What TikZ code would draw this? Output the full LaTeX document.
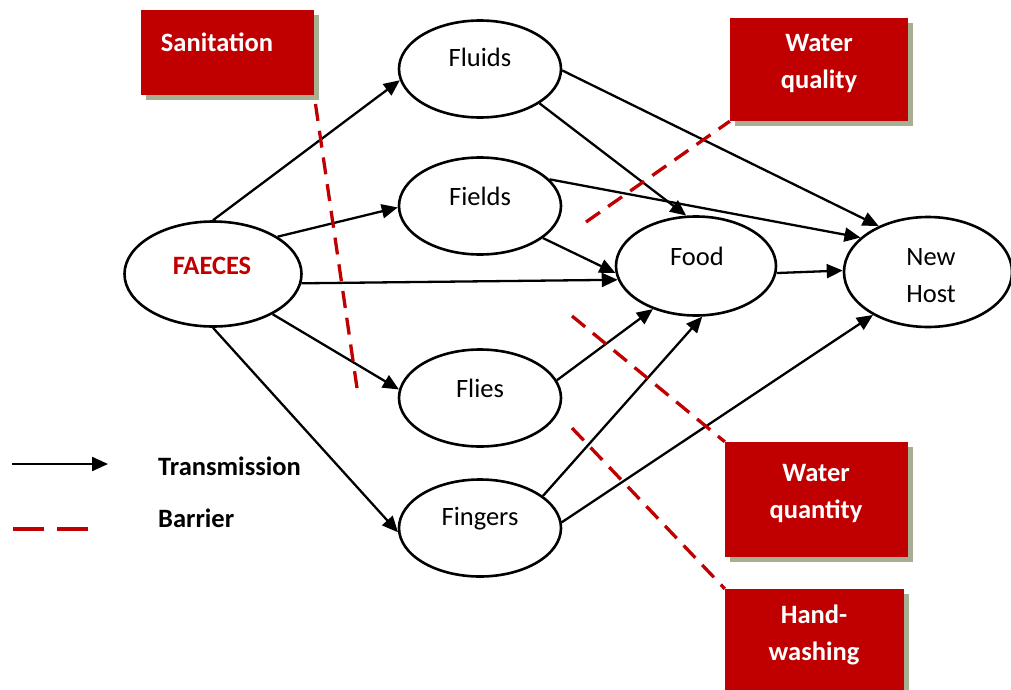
\documentclass[tikz,border=0pt]{standalone}
\usepackage{fontspec}
\setmainfont{Carlito}
\usetikzlibrary{arrows.meta,shapes.geometric,shadows}
\definecolor{barrierred}{HTML}{C00000}
\definecolor{boxshade}{HTML}{A7AF93}

\begin{document}
\begin{tikzpicture}[x=1pt,y=-1pt,
  every node/.style={font=\fontsize{26.5}{37}\selectfont},
  stage/.style={draw, line width=2.6pt, ellipse, inner sep=0pt, minimum width=162pt, minimum height=97pt},
  flow/.style={line width=2.3pt, -{Triangle[length=16pt,width=14pt]}},
  barrier/.style={draw=barrierred, line width=3.3pt, dash pattern=on 17pt off 10pt},
  barrierbox/.style={fill=barrierred, inner sep=0pt,
    drop shadow={shadow xshift=5pt, shadow yshift=-5pt, fill=boxshade, opacity=1}},
  boxlabel/.style={text=white, font=\fontsize{26.5}{37}\selectfont\bfseries, align=center, anchor=base, inner sep=0pt},
  stagelabel/.style={anchor=base, align=center, inner sep=0pt},
  legendlabel/.style={anchor=base west, inner sep=0pt, font=\fontsize{26.5}{37}\selectfont\bfseries}
]
\useasboundingbox (0,0) rectangle (1011,690);

% stages of the transmission route
\node[stage, minimum width=177pt, minimum height=105pt] (faeces) at (213,274) {};
\node[stage] (fluids)  at (480,69)  {};
\node[stage] (fields)  at (480,206) {};
\node[stage] (flies)   at (480,398) {};
\node[stage] (fingers) at (480,528) {};
\node[stage, minimum width=160pt, minimum height=99pt] (food) at (696,266) {};
\node[stage, minimum width=168pt, minimum height=110pt] (host) at (928,272) {};

% stage names (for two lines the base anchor sits on the last line)
\node[stagelabel, text=barrierred, font=\fontsize{26.5}{37}\selectfont\bfseries] (faecesT) at (212,274) {FAECES};
\node[stagelabel] (fluidsT)  at (480,67)  {Fluids};
\node[stagelabel] (fieldsT)  at (480,205) {Fields};
\node[stagelabel] (fliesT)   at (480,397) {Flies};
\node[stagelabel] (fingersT) at (480,525) {Fingers};
\node[stagelabel] (foodT)    at (697,265) {Food};
\node[stagelabel] (hostT)    at (931,302) {New\\Host};

% transmission paths
\draw[flow] (faeces.90)  -- (fluids.188);
\draw[flow] (faeces.30)  -- (fields.181);
\draw[flow] (faeces.-6)  -- (food.190);
\draw[flow] (faeces.-34) -- (flies.174);
\draw[flow] (faeces.-90) -- (fingers.183);
\draw[flow] (fluids.-30) -- (food.101);
\draw[flow] (fluids.-1)  -- (host.137);
\draw[flow] (fields.21)  -- (host.153);
\draw[flow] (fields.-27) -- (food.185);
\draw[flow] (flies.13)   -- (food.225);
\draw[flow] (fingers.27) -- (food.277);
\draw[flow] (fingers.4)  -- (host.218);
\draw[flow] (food.-5)    -- (host.179.5);

% barriers
\node[barrierbox, minimum width=173pt, minimum height=85pt]  (sanbox) at (227.5,52.5) {};
\node[barrierbox, minimum width=178pt, minimum height=103pt] (wqlbox) at (819,69.5) {};
\node[barrierbox, minimum width=183pt, minimum height=115pt] (wqnbox) at (816.5,499.5) {};
\node[barrierbox, minimum width=179pt, minimum height=110pt] (hwbox)  at (814.5,644) {};

\coordinate (sanEnd) at (357,388);
\coordinate (wqlEnd) at (586,222);
\coordinate (wqnEnd) at (572,316);
\coordinate (hwEnd)  at (572,428);
\draw[barrier] (sanEnd) -- (sanbox.south east);
\draw[barrier] (wqlEnd) -- (wqlbox.south west);
\draw[barrier] (wqnEnd) -- (wqnbox.north west);
\draw[barrier] (hwEnd)  -- (hwbox.north west);

\node[boxlabel] (sanT) at (217,52)  {Sanitation};
\node[boxlabel] (wqlT) at (819,89)  {Water\\quality};
\node[boxlabel] (wqnT) at (816,518) {Water\\quantity};
\node[boxlabel] (hwT)  at (814,660) {Hand-\\washing};

% legend
\coordinate (legFlowA) at (12,464);
\coordinate (legFlowB) at (108,464);
\coordinate (legBarA)  at (13,529);
\coordinate (legBarB)  at (89,529);
\draw[flow] (legFlowA) -- (legFlowB);
\draw[draw=barrierred, line width=3.3pt, dash pattern=on 31pt off 13pt] (legBarA) -- (legBarB);
\node[legendlabel] (legFlowT) at (158,475) {Transmission};
\node[legendlabel] (legBarT)  at (158,527) {Barrier};
\end{tikzpicture}
\end{document}
